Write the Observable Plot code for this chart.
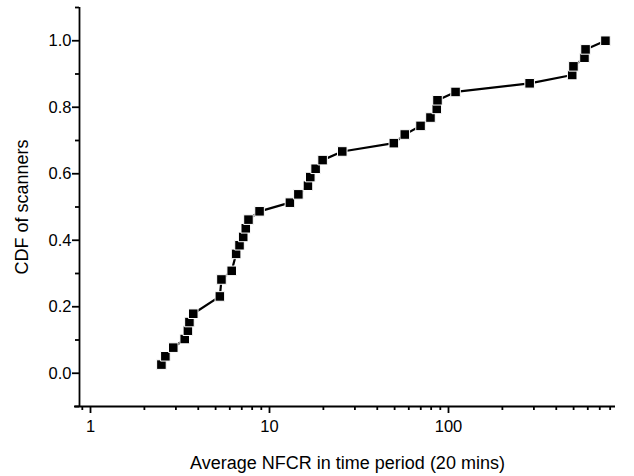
<!DOCTYPE html>
<html>
<head>
<meta charset="utf-8">
<script src="https://cdn.jsdelivr.net/npm/d3@7"></script>
<script src="https://cdn.jsdelivr.net/npm/@observablehq/plot@0.6"></script>
<style>
  body { margin: 0; background: #fff; }
  #chart svg { display: block; }
  #chart svg g[aria-label$="tick label"] { font-size: 16.5px !important; }
</style>
</head>
<body>
<div id="chart"></div>
<script>
// Average NFCR (x, log scale) and CDF of scanners (y)
const nfcr = [2.49, 2.62, 2.90, 3.36, 3.50, 3.57, 3.75, 5.28, 5.39, 6.15, 6.51, 6.80,
  7.13, 7.37, 7.63, 8.80, 13.0, 14.5, 16.4, 16.9, 18.1, 19.8, 25.5, 49.5, 57.0, 69.8,
  79.3, 86.0, 86.8, 109.5, 284, 491, 499, 575, 583, 753];
const cdf = [0.026, 0.051, 0.077, 0.103, 0.128, 0.154, 0.179, 0.231, 0.282, 0.308,
  0.359, 0.385, 0.410, 0.436, 0.462, 0.487, 0.513, 0.538, 0.564, 0.590, 0.615, 0.641,
  0.667, 0.692, 0.718, 0.744, 0.769, 0.795, 0.821, 0.846, 0.872, 0.897, 0.923, 0.949,
  0.974, 1.0];

const xMajorTicks = [1, 10, 100];
const xMinorTicks = [0.9, 2, 3, 4, 5, 6, 7, 8, 9, 20, 30, 40, 50, 60, 70, 80, 90,
  200, 300, 400, 500, 600, 700, 800];
const yMajorTicks = [0, 0.2, 0.4, 0.6, 0.8, 1.0];
const yMinorTicks = [-0.1, 0.1, 0.3, 0.5, 0.7, 0.9, 1.1];

const xLabel = "Average NFCR in time period (20 mins)";
const yLabel = "CDF of scanners";

const xDomain = [0.868, 857];
const xAxisLineStart = 0.814;
const yDomain = [-0.1, 1.1];

const data = nfcr.map((x, i) => ({x, y: cdf[i]}));

const font = "'Liberation Sans', Arial, Helvetica, sans-serif";

const chart = Plot.plot({
  width: 634,
  height: 476,
  marginLeft: 79,
  marginRight: 19,
  marginTop: 7,
  marginBottom: 70,
  x: {type: "log", domain: xDomain},
  y: {domain: yDomain},
  style: {fontFamily: font, fontSize: "16px", color: "#000", background: "#fff"},
  marks: [
    // axis lines
    Plot.ruleX([xDomain[0]], {stroke: "#000", strokeWidth: 1.8}),
    Plot.ruleY([yDomain[0]], {x1: xAxisLineStart, x2: xDomain[1], stroke: "#000", strokeWidth: 1.8}),
    // x axis ticks
    Plot.axisX({ticks: xMajorTicks, tickSize: 7, tickPadding: 7, strokeWidth: 1.8,
      tickFormat: d => String(d), label: null}),
    Plot.axisX({ticks: xMinorTicks, tickSize: 4, strokeWidth: 1.8, fill: "none", label: null}),
    // y axis ticks
    Plot.axisY({ticks: yMajorTicks, tickSize: 7, tickPadding: 1, strokeWidth: 1.8,
      tickFormat: d3.format(".1f"), label: null}),
    Plot.axisY({ticks: yMinorTicks, tickSize: 4, strokeWidth: 1.8, fill: "none", label: null}),
    // axis titles
    Plot.text([xLabel], {text: d => d, frameAnchor: "bottom", dy: 57, fontSize: 18,
      lineAnchor: "middle", textAnchor: "middle", fill: "#000"}),
    Plot.text([yLabel], {text: d => d, frameAnchor: "left", dx: -57, rotate: -90,
      fontSize: 18, lineAnchor: "middle", textAnchor: "middle", fill: "#000"}),
    // data
    Plot.line(data, {x: "x", y: "y", stroke: "#000", strokeWidth: 2.2}),
    Plot.dot(data, {x: "x", y: "y", symbol: "square", r: 5.4, fill: "#000",
      stroke: "#fff", strokeWidth: 1})
  ]
});

document.getElementById("chart").appendChild(chart);
</script>
</body>
</html>
